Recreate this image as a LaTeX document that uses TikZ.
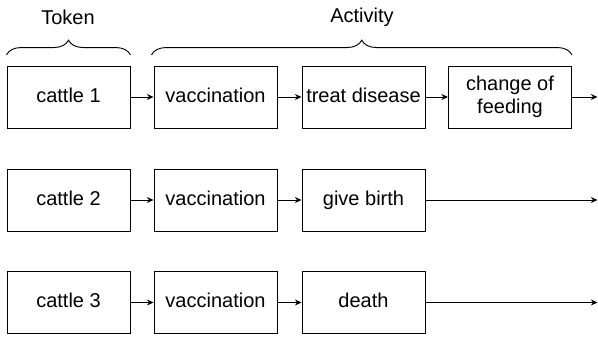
\documentclass[tikz,border=0pt]{standalone}
\usepackage{fontspec}
\setmainfont{Liberation Sans}
\usetikzlibrary{arrows.meta,decorations.pathreplacing}

\begin{document}
\begin{tikzpicture}[x=0.75pt,y=-0.75pt,>={Stealth[length=5pt,width=4.5pt]},
  every node/.style={align=center,font=\fontsize{15}{17}\selectfont},
  box/.style={draw,line width=0.7pt,minimum width=92.25pt,minimum height=46.5pt,inner sep=0pt,
    text height=10.8pt,text depth=3.2pt},
  conn/.style={->,line width=0.7pt},
  bracket/.style={decorate,decoration={brace,amplitude=11pt},line width=0.7pt}]
\useasboundingbox (0,0) rectangle (598,339);
% labels
\node (token) at (68,17) {Token};
\node (activity) at (362,17) {Activity};
% row 1
\node[box] (cattle1) at (68.5,97) {cattle 1};
\node[box] (vacc1) at (215.5,97) {vaccination};
\node[box] (treat1) at (363.5,97) {treat disease};
\node[box,text height=,text depth=] (feed1) at (510,97) {change of\\feeding};
\coordinate (end1) at (597.5,97);
% row 2
\node[box] (cattle2) at (68.5,200) {cattle 2};
\node[box] (vacc2) at (215.5,200) {vaccination};
\node[box] (birth2) at (363.5,200) {give birth};
\coordinate (end2) at (597.5,200);
% row 3
\node[box] (cattle3) at (68.5,302.5) {cattle 3};
\node[box] (vacc3) at (215.5,302.5) {vaccination};
\node[box] (death3) at (363.5,302.5) {death};
\coordinate (end3) at (597.5,302.5);
% braces
\draw[bracket] ([yshift=8pt]cattle1.north west) -- ([yshift=8pt]cattle1.north east);
\draw[bracket] ([yshift=8pt,xshift=-1.5pt]vacc1.north west) -- ([yshift=8pt]feed1.north east);
% arrows
\draw[conn] (cattle1) -- (vacc1);
\draw[conn] (vacc1) -- (treat1);
\draw[conn] (treat1) -- (feed1);
\draw[conn] (feed1) -- (end1);
\draw[conn] (cattle2) -- (vacc2);
\draw[conn] (vacc2) -- (birth2);
\draw[conn] (birth2) -- (end2);
\draw[conn] (cattle3) -- (vacc3);
\draw[conn] (vacc3) -- (death3);
\draw[conn] (death3) -- (end3);
\end{tikzpicture}
\end{document}
